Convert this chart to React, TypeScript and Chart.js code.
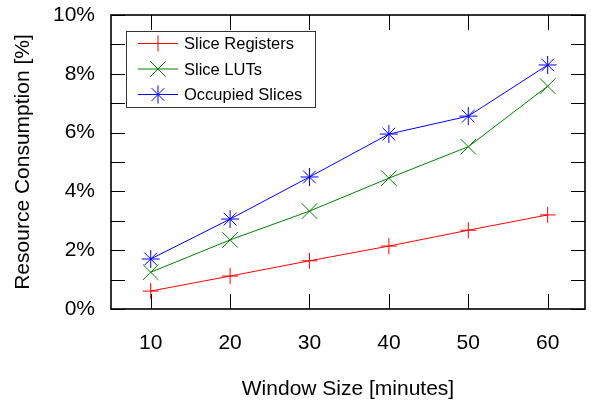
import React, { useEffect, useRef } from "react";
import { Chart, registerables } from "chart.js";
import { drawPoint } from "chart.js/helpers";

Chart.register(...registerables);

const windowSizes = [10, 20, 30, 40, 50, 60];
const sliceRegisters = [0.61, 1.12, 1.64, 2.14, 2.68, 3.2];
const sliceLUTs = [1.25, 2.35, 3.33, 4.45, 5.52, 7.58];
const occupiedSlices = [1.7, 3.06, 4.49, 5.95, 6.56, 8.3];
const seriesNames = ["Slice Registers", "Slice LUTs", "Occupied Slices"];
const xTickValues = [10, 20, 30, 40, 50, 60];
const yTickValues = [0, 1, 2, 3, 4, 5, 6, 7, 8, 9, 10];

const FONT = "'Liberation Sans', Arial, sans-serif";

const framePlugin = {
  id: "frameTicks",
  afterDatasetsDraw(chart: any) {
    const { ctx, chartArea: a, scales } = chart;
    ctx.save();
    ctx.strokeStyle = "#000";
    ctx.lineWidth = 1;
    // inward ticks
    ctx.beginPath();
    for (const v of xTickValues) {
      const px = Math.round(scales.x.getPixelForValue(v)) + 0.5;
      ctx.moveTo(px, a.bottom);
      ctx.lineTo(px, a.bottom - 15);
      ctx.moveTo(px, a.top);
      ctx.lineTo(px, a.top + 15);
    }
    for (const v of yTickValues) {
      const py = Math.round(scales.y.getPixelForValue(v)) + 0.5;
      ctx.moveTo(a.left, py);
      ctx.lineTo(a.left + 14, py);
      ctx.moveTo(a.right, py);
      ctx.lineTo(a.right - 14, py);
    }
    ctx.stroke();
    ctx.lineWidth = 1.6;
    ctx.strokeRect(a.left, a.top, a.right - a.left, a.bottom - a.top);

    // legend
    const lx = 126, ly = 31, lw = 189, lh = 76;
    ctx.fillStyle = "#fff";
    ctx.fillRect(lx, ly, lw, lh);
    ctx.lineWidth = 1;
    ctx.strokeStyle = "#333";
    ctx.strokeRect(lx + 0.5, ly + 0.5, lw, lh);
    chart.data.datasets.forEach((ds: any, i: number) => {
      const cy = ly + 12.5 + i * 25.5;
      ctx.strokeStyle = ds.borderColor;
      ctx.lineWidth = 1;
      ctx.beginPath();
      ctx.moveTo(138, cy);
      ctx.lineTo(178, cy);
      ctx.stroke();
      drawPoint(ctx, {
        pointStyle: ds.pointStyle,
        radius: ds.pointRadius,
        borderWidth: 1,
        rotation: 0,
      } as any, 158, cy);
      ctx.fillStyle = "#000";
      ctx.font = `16.5px ${FONT}`;
      ctx.textBaseline = "middle";
      ctx.textAlign = "left";
      ctx.fillText(ds.label, 184, cy + 1);
    });
    ctx.restore();
  },
};

export default function App() {
  const ref = useRef<HTMLCanvasElement>(null);
  useEffect(() => {
    if (!ref.current) return;
    const mk = (vals: number[]) => windowSizes.map((x, i) => ({ x, y: vals[i] }));
    const chart = new Chart(ref.current, {
      type: "line",
      data: {
        datasets: [
          {
            label: seriesNames[0],
            data: mk(sliceRegisters),
            borderColor: "#ff0000",
            backgroundColor: "#ff0000",
            pointStyle: "cross",
            pointRadius: 8,
            pointBorderWidth: 1,
            borderWidth: 1,
          },
          {
            label: seriesNames[1],
            data: mk(sliceLUTs),
            borderColor: "#008000",
            backgroundColor: "#008000",
            pointStyle: "crossRot",
            pointRadius: 11,
            pointBorderWidth: 1,
            borderWidth: 1,
          },
          {
            label: seriesNames[2],
            data: mk(occupiedSlices),
            borderColor: "#0000ff",
            backgroundColor: "#0000ff",
            pointStyle: "star",
            pointRadius: 9,
            pointBorderWidth: 1,
            borderWidth: 1,
          },
        ] as any,
      },
      options: {
        responsive: false,
        animation: false,
        layout: { autoPadding: false, padding: { top: 15, right: 6, left: 0, bottom: 0 } },
        plugins: { legend: { display: false }, tooltip: { enabled: false } },
        elements: { line: { tension: 0 } },
        scales: {
          x: {
            type: "linear",
            min: 5,
            max: 64.7,
            afterBuildTicks: (s: any) => {
              s.ticks = xTickValues.map((v) => ({ value: v }));
            },
            afterFit: (s: any) => {
              s.height = 96;
              s.paddingLeft = 0;
              s.paddingRight = 0;
            },
            grid: { display: false, drawTicks: false },
            border: { display: false },
            ticks: { color: "#000", padding: 22, font: { family: FONT, size: 21 }, maxRotation: 0 },
            title: {
              display: true,
              text: "Window Size [minutes]",
              color: "#000",
              font: { family: FONT, size: 21 },
              padding: { top: 0, bottom: 3 },
            },
          },
          y: {
            type: "linear",
            min: 0,
            max: 10,
            afterBuildTicks: (s: any) => {
              s.ticks = yTickValues.map((v) => ({ value: v }));
            },
            afterFit: (s: any) => {
              s.width = 111;
              s.paddingTop = 0;
              s.paddingBottom = 0;
            },
            grid: { display: false, drawTicks: false },
            border: { display: false },
            ticks: {
              color: "#000",
              padding: 16,
              font: { family: FONT, size: 21 },
              callback: (v: any) => (Number(v) % 2 === 0 ? `${v}%` : ""),
            },
            title: {
              display: true,
              text: "Resource Consumption [%]",
              color: "#000",
              font: { family: FONT, size: 21 },
              padding: { top: 10.5, bottom: 0 },
            },
          },
        },
      } as any,
      plugins: [framePlugin],
    });
    return () => chart.destroy();
  }, []);
  return (
    <div style={{ position: "absolute", left: 0, top: 0, width: 591, height: 405, background: "#fff" }}>
      <canvas ref={ref} width={591} height={405} />
    </div>
  );
}
